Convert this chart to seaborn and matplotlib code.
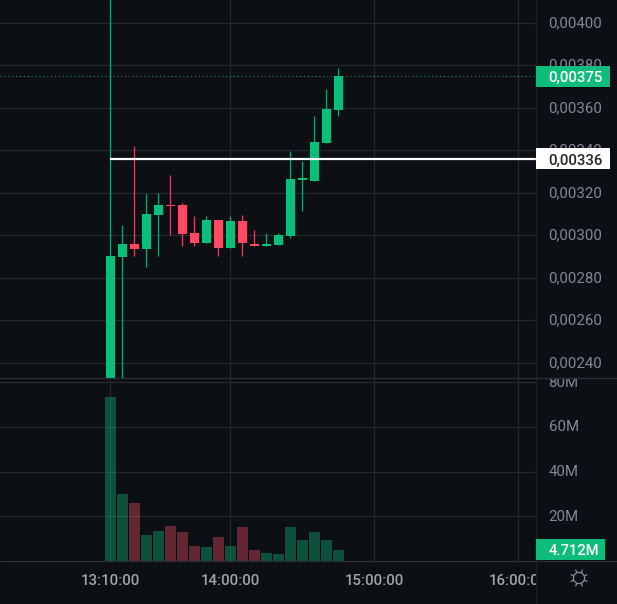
import matplotlib
matplotlib.use("Agg")
import matplotlib.pyplot as plt
from matplotlib.lines import Line2D
from matplotlib.patches import Rectangle
from matplotlib.ticker import FuncFormatter
from matplotlib.transforms import Bbox, ScaledTranslation
import numpy as np
import pandas as pd
import seaborn as sns

candle_index = list(range(20))
open_px = [0.002329, 0.002900, 0.002960, 0.002937, 0.003096, 0.003144, 0.003144, 0.003012, 0.002965, 0.003073,
           0.002941, 0.003068, 0.002960, 0.002951, 0.002955, 0.002998, 0.003263, 0.003256, 0.003435, 0.003591]
close_px = [0.002904, 0.002960, 0.002937, 0.003101, 0.003144, 0.003139, 0.003007, 0.002965, 0.003073, 0.002941,
            0.003068, 0.002965, 0.002951, 0.002960, 0.003002, 0.003266, 0.003271, 0.003440, 0.003595, 0.003751]
high_px = [0.004120, 0.003049, 0.003423, 0.003195, 0.003198, 0.003285, 0.003151, 0.003092, 0.003092, 0.003073,
           0.003092, 0.003096, 0.003026, 0.003012, 0.003012, 0.003398, 0.003351, 0.003562, 0.003689, 0.003788]
low_px = [0.002329, 0.002330, 0.002905, 0.002850, 0.002905, 0.003002, 0.002951, 0.002951, 0.002965, 0.002905,
          0.002941, 0.002905, 0.002951, 0.002951, 0.002955, 0.002988, 0.003115, 0.003256, 0.003435, 0.003562]
volume_m = [73.4, 30.0, 26.1, 11.6, 13.4, 15.7, 13.0, 6.7, 6.3, 10.7,
            6.7, 15.2, 4.9, 3.6, 3.1, 15.2, 9.4, 13.0, 9.4, 4.712]
price_ticks = [0.0024, 0.0026, 0.0028, 0.0030, 0.0032, 0.0034, 0.0036, 0.0038, 0.0040]
volume_ticks = [20, 40, 60, 80]
time_ticks = [0, 10, 22, 34]
time_labels = ["13:10:00", "14:00:00", "15:00:00", "16:00:00"]
last_price = 0.00375
level_price = 0.00336
last_volume_label = "4.712M"

BG = "#0c0f14"
GRID = "#25282d"
LINE = "#2c2f34"
GREEN = "#0dbd7b"
RED = "#fb4a66"
GREEN_WICK = "#1f9a72"
RED_WICK = "#c94a60"
TICK = "#85888e"
TIME = "#a0a3a8"

sns.set_theme(style="dark", rc={"figure.facecolor": BG, "axes.facecolor": BG, "savefig.facecolor": BG})
plt.rcParams["font.family"] = ["Roboto", "DejaVu Sans"]

W, H = 617, 604
fig = plt.figure(figsize=(W / 100, H / 100), dpi=100)
pane_right = 536
price_ax = fig.add_axes([0, (H - 378) / H, pane_right / W, 378 / H])
vol_ax = fig.add_axes([0, (H - 561) / H, pane_right / W, (561 - 379) / H])

x0 = -110.3 / 12
x1 = (pane_right - 110.3) / 12

up = [c >= o for o, c in zip(open_px, close_px)]
frame = pd.DataFrame({"i": candle_index, "v": volume_m, "dir": ["up" if u else "down" for u in up]})

# volume pane
sns.barplot(data=frame, x="i", y="v", hue="dir", palette={"up": GREEN, "down": RED},
            native_scale=True, dodge=False, width=0.95, saturation=1, alpha=0.38,
            legend=False, linewidth=0, ax=vol_ax)
vol_ax.set_xlim(x0, x1)
vol_ax.set_ylim(0, 81.5)
vol_ax.set_xlabel("")
vol_ax.set_ylabel("")

# price pane
colors = [GREEN if u else RED for u in up]
wick_colors = [GREEN_WICK if u else RED_WICK for u in up]
price_ax.vlines(candle_index, low_px, high_px, colors=wick_colors, linewidth=0.95, zorder=2)
price_ax.bar(candle_index, np.abs(np.array(close_px) - np.array(open_px)),
             bottom=np.minimum(open_px, close_px), width=0.78, color=colors, linewidth=0, zorder=3)
price_ax.set_xlim(x0, x1)
price_ax.set_ylim(0.0023294, 0.004108)
price_ax.axhline(last_price, color=GREEN, linewidth=0.8, linestyle=(0, (1, 2.5)), alpha=0.75, zorder=1)
price_ax.hlines(level_price, 0, x1, color="white", linewidth=1.6, zorder=4)

for ax in (price_ax, vol_ax):
    ax.set_facecolor(BG)
    ax.set_axisbelow(True)
    ax.grid(True, color=GRID, linewidth=0.9)
    for s in ax.spines.values():
        s.set_visible(False)
    ax.yaxis.tick_right()
    ax.set_xticks(time_ticks)

price_ax.set_yticks(price_ticks)
price_ax.yaxis.set_major_formatter(FuncFormatter(lambda v, _: f"{v:.5f}".replace(".", ",")))
price_ax.tick_params(axis="y", length=0, pad=9, labelsize=10.8, labelcolor=TICK)
price_ax.tick_params(axis="x", length=0, labelbottom=False)

vol_ax.set_yticks(volume_ticks)
vol_ax.yaxis.set_major_formatter(FuncFormatter(lambda v, _: f"{v:.0f}M"))
vol_ax.tick_params(axis="y", length=0, pad=9, labelsize=10.8, labelcolor=TICK)
vol_ax.set_xticklabels(time_labels)
vol_ax.tick_params(axis="x", length=0, pad=9.5, labelsize=10.8, labelcolor=TIME)

# clip axis text where panes end; nudge scale labels up onto their gridlines
fig.canvas.draw()
nudge = ScaledTranslation(0, 1.2 / 100, fig.dpi_scale_trans)
clip_vol = Bbox([[pane_right, H - 561], [W, H - 378]])
for t in vol_ax.get_yticklabels():
    t.set_transform(t.get_transform() + nudge)
    t.set_clip_box(clip_vol)
    t.set_clip_on(True)
for t in price_ax.get_yticklabels():
    t.set_transform(t.get_transform() + nudge)
clip_time = Bbox([[0, 0], [pane_right, H - 561]])
for t in vol_ax.get_xticklabels():
    t.set_fontweight("medium")
    t.set_clip_box(clip_time)
    t.set_clip_on(True)


def badge(ax, value, label, width_px, face, text_color, height_px=21):
    """Value tag sitting on the right scale."""
    top = ax.transData.transform((0, value))[1]
    inv = fig.transFigure.inverted()
    x_f, y_f = inv.transform((pane_right, top - height_px / 2))
    fig.add_artist(Rectangle((x_f, y_f), width_px / W, height_px / H, transform=fig.transFigure,
                             facecolor=face, edgecolor="none", zorder=10))
    fig.text(x_f + 12.5 / W, y_f + height_px / 2 / H, label, color=text_color, fontsize=10.8,
             va="center_baseline", ha="left", zorder=11, fontweight="medium")


badge(price_ax, last_price, f"{last_price:.5f}".replace(".", ","), 74, GREEN, "white")
badge(price_ax, level_price, f"{level_price:.5f}".replace(".", ","), 73.5, "white", "#22252b")

# volume tag, resting on the time axis line
x_f, y_f = pane_right / W, (H - 560) / H
fig.add_artist(Rectangle((x_f, y_f), 68.5 / W, 21 / H, transform=fig.transFigure,
                         facecolor=GREEN, edgecolor="none", zorder=10))
fig.text(x_f + 12.5 / W, y_f + 10.5 / H, last_volume_label, color="white", fontsize=10.6,
         va="center_baseline", ha="left", zorder=11, fontweight="medium")

# pane separators and scale border
for y in (378, 561):
    fig.add_artist(Line2D([0, 1], [(H - y) / H] * 2, color=LINE, linewidth=0.9, transform=fig.transFigure, zorder=5))
fig.add_artist(Line2D([pane_right / W] * 2, [0, 1], color="#1d2025", linewidth=0.9, transform=fig.transFigure, zorder=5))

# settings (sun) icon
cx, cy = 579, 578
ic = fig.add_axes([(cx - 12) / W, (H - cy - 12) / H, 24 / W, 24 / H])
ic.set_axis_off()
ic.set_xlim(-12, 12)
ic.set_ylim(-12, 12)
ic.add_patch(plt.Circle((0, 0), 5.6, fill=False, edgecolor="#8d9096", linewidth=0.9))
for a in np.deg2rad(np.arange(22.5, 360, 45)):
    ic.plot([6.2 * np.cos(a), 8.6 * np.cos(a)], [6.2 * np.sin(a), 8.6 * np.sin(a)], color="#8d9096", linewidth=0.9)

fig.savefig("out.png", dpi=100)
